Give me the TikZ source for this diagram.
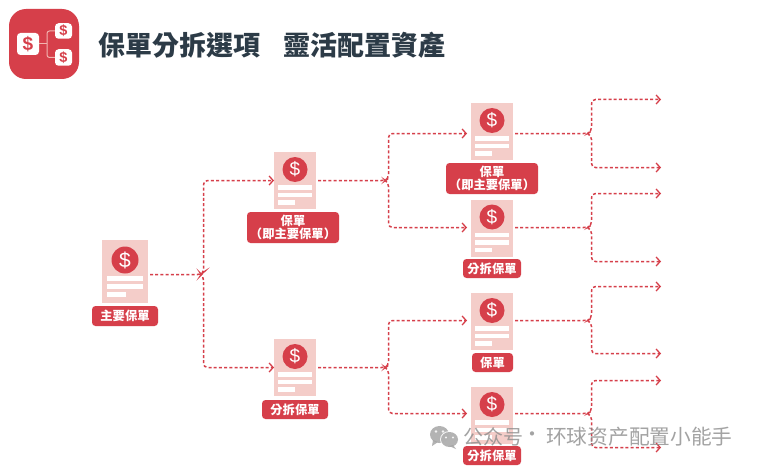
\documentclass[tikz,border=0pt]{standalone}
\usepackage{fontspec}
\setmainfont{Noto Sans CJK TC}
\newfontfamily\scfont{Noto Sans CJK SC}
\newfontfamily\latinbold[Scale=1]{Liberation Sans}
\usetikzlibrary{arrows.meta}
\definecolor{brandred}{HTML}{D63F4A}
\definecolor{sheetpink}{HTML}{F4CDC9}
\definecolor{titleink}{HTML}{2C3B47}
\definecolor{branchpink}{HTML}{F2B5B0}
\tikzset{
  sheet/.style={fill=sheetpink,minimum width=42pt,minimum height=57pt,inner sep=0,outer sep=0},
  coin/.style={circle,fill=brandred,text=white,minimum size=25pt,inner sep=0,font=\latinbold\fontsize{19}{19}\selectfont},
  bar/.style={fill=white,draw=none},
  tag/.style={fill=brandred,text=white,rounded corners=3.5pt,inner sep=0,align=center,font=\bfseries\fontsize{12.3}{12.8}\selectfont},
  link/.style={draw=brandred,line width=1.5pt,dash pattern=on 3pt off 2.2pt,rounded corners=4pt},
  linkto/.style={link,-{Straight Barb[length=4pt,width=9pt,line width=1.3pt]}},
  iconcard/.style={fill=white,rounded corners=3.5pt},
}
\newcommand{\docsheet}[3]{%
  \node[sheet] (#1) at (#2,#3+28.5) {};
  \node[coin] (#1c) at (#2,#3+17.5) {\$};
  \fill[bar] (#2-17,#3+33) rectangle (#2+17,#3+37.5);
  \fill[bar] (#2-17,#3+40.5) rectangle (#2+17,#3+45);
  \fill[bar] (#2-17,#3+48) rectangle (#2,#3+52.5);
}
\begin{document}
\begin{tikzpicture}[x=1pt,y=-1pt]
\useasboundingbox (0,0) rectangle (757,468);
\fill[white] (0,0) rectangle (757,468);

% logo
\node[fill=brandred,rounded corners=17pt,minimum width=70pt,minimum height=70pt,inner sep=0] (logo) at (44,44) {};
\node[iconcard,minimum width=22pt,minimum height=22pt,inner sep=0,font=\latinbold\bfseries\fontsize{19}{19}\selectfont,text=brandred] (ia) at (28,44) {\$};
\node[iconcard,minimum width=17pt,minimum height=15.5pt,inner sep=0,font=\latinbold\bfseries\fontsize{14.5}{14.5}\selectfont,text=brandred] (ib) at (63.5,31) {\$};
\node[iconcard,minimum width=17pt,minimum height=16.5pt,inner sep=0,font=\latinbold\bfseries\fontsize{14.5}{14.5}\selectfont,text=brandred] (ic) at (63.5,57.5) {\$};
\coordinate (ij) at (47,44);
\draw[branchpink,line width=1pt] (ia.east) -- (ij);
\draw[branchpink,line width=1pt,rounded corners=2.5pt] (ib.west) -| (ij) |- (ic.west);

% title
\node[anchor=west,inner sep=0,text=titleink,font=\bfseries\fontsize{27}{28}\selectfont] (title) at (98,45) {保單分拆選項};
\node[anchor=west,inner sep=0,text=titleink,font=\bfseries\fontsize{27}{28}\selectfont] (title2) at (283.5,45) {靈活配置資產};

% routing points
\coordinate (j0) at (201.5,274.5);
\coordinate (j1) at (385.5,180.5);
\coordinate (j2) at (385.5,367.5);
\coordinate (j31) at (587.5,133.5);
\coordinate (j32) at (587.5,227.5);
\coordinate (j33) at (587.5,320.5);
\coordinate (j34) at (587.5,413.5);
\coordinate (l1) at (661,99.5);
\coordinate (l2) at (661,167.5);
\coordinate (l3) at (661,193.5);
\coordinate (l4) at (661,261.5);
\coordinate (l5) at (661,286.5);
\coordinate (l6) at (661,353.5);
\coordinate (l7) at (661,380.5);
\coordinate (l8) at (661,447.5);

% sheets
\node[sheet,minimum width=46pt,minimum height=63pt] (m) at (125,271.5) {};
\node[coin,minimum size=27pt,font=\latinbold\fontsize{21}{21}\selectfont] (mc) at (125,260) {\$};
\fill[bar] (107,276) rectangle (143,280.5);
\fill[bar] (107,284) rectangle (143,288.5);
\fill[bar] (107,292) rectangle (126,296.5);
\docsheet{a}{295}{152}
\docsheet{b}{295}{339}
\docsheet{c}{492}{103}
\docsheet{d}{492}{199.5}
\docsheet{e}{492}{293}
\docsheet{f}{492}{387}

% labels
\node[tag,minimum width=66pt,minimum height=20pt] (mt) at (125,316) {主要保單};
\node[tag,minimum width=92pt,minimum height=31pt] (at) at (293,227.5) {保單\\（即主要保單）};
\node[tag,minimum width=66pt,minimum height=19pt] (bt) at (295,409.5) {分拆保單};
\node[tag,minimum width=92pt,minimum height=31pt] (ct) at (492,178.5) {保單\\（即主要保單）};
\node[tag,minimum width=58pt,minimum height=19pt] (dt) at (492,268.5) {分拆保單};
\node[tag,minimum width=41pt,minimum height=19pt] (et) at (492.5,362.5) {保單};
\node[tag,minimum width=58pt,minimum height=19pt] (ft) at (492,455.5) {分拆保單};

% connectors: the first branch of each fork carries the trunk
\draw[linkto,shorten <=2pt] (m.east |- j0) -- (j0) -- ++(2,-2) |- (a.west);
\draw[linkto] (j0) -- ++(2,2) |- (b.west);

\draw[linkto,shorten <=2pt,shorten >=4pt] (a.east |- j1) -- (j1) -- ++(3,-2) |- (c.west |- j31);
\draw[linkto,shorten >=4pt] (j1) -- ++(3,2) |- (d.west |- j32);
\draw[linkto,shorten <=2pt,shorten >=4pt] (b.east |- j2) -- (j2) -- ++(3,-2) |- (e.west |- j33);
\draw[linkto,shorten >=4pt] (j2) -- ++(3,2) |- (f.west |- j34);

\draw[linkto,shorten <=2pt] (c.east |- j31) -- (j31) -- ++(4,-2) |- (l1);
\draw[linkto] (j31) -- ++(4,2) |- (l2);
\draw[linkto,shorten <=2pt] (d.east |- j32) -- (j32) -- ++(4,-2) |- (l3);
\draw[linkto] (j32) -- ++(4,2) |- (l4);
\draw[linkto,shorten <=2pt] (e.east |- j33) -- (j33) -- ++(4,-2) |- (l5);
\draw[linkto] (j33) -- ++(4,2) |- (l6);
\draw[linkto,shorten <=2pt] (f.east |- j34) -- (j34) -- ++(4,-2) |- (l7);
\draw[linkto] (j34) -- ++(4,2) |- (l8);

% watermark
\begin{scope}[opacity=0.85]
\fill[gray!70] (439.5,434.5) ellipse (9.5pt and 8.5pt);
\fill[gray!70] (433,440) -- (432,446) -- (438,442) -- cycle;
\fill[white] (449.5,439.5) ellipse (9.5pt and 8.5pt);
\fill[gray!70] (449.5,439.5) ellipse (8.5pt and 7.5pt);
\fill[gray!70] (453,445) -- (456,449) -- (449,446) -- cycle;
\fill[white] (436,431.5) circle (1.3pt);
\fill[white] (443,431.5) circle (1.3pt);
\fill[white] (446,437.5) circle (1.1pt);
\fill[white] (453,437.5) circle (1.1pt);
\end{scope}
\node[anchor=west,inner sep=0,text=black!45,opacity=0.8,font=\scfont\fontsize{20}{22}\selectfont] (wm) at (463,437) {公众号};
\node[anchor=center,inner sep=0,text=black!45,opacity=0.8,font=\scfont\fontsize{20}{22}\selectfont] (wd) at (532,437) {·};
\node[anchor=west,inner sep=0,text=black!45,opacity=0.8,font=\scfont\fontsize{20.7}{22}\selectfont] (wn) at (546,437) {环球资产配置小能手};
\end{tikzpicture}
\end{document}
